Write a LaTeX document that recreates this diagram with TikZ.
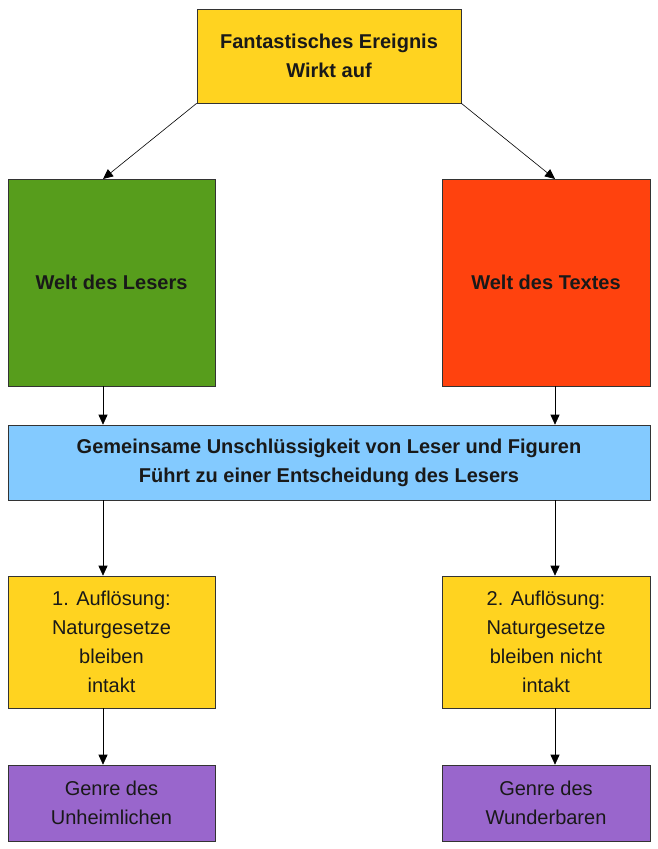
\documentclass[tikz,border=0pt]{standalone}
\usepackage{fontspec}
\setmainfont{Liberation Sans}
\usetikzlibrary{arrows.meta}
\definecolor{cyel}{HTML}{FFD320}
\definecolor{cgrn}{HTML}{579D1C}
\definecolor{cred}{HTML}{FF420E}
\definecolor{cblu}{HTML}{83CAFF}
\definecolor{cpur}{HTML}{9966CC}
\begin{document}
\begin{tikzpicture}[x=1pt,y=-1pt,
 box/.style={draw=black!80,line width=0.6pt,align=center,inner sep=0pt,font=\fontsize{20}{29}\selectfont,text=black!90},
 bbox/.style={box,font=\fontsize{20}{29}\selectfont\bfseries},
 arr/.style={-{Triangle[length=10pt,width=9pt]},line width=0.6pt}]
\useasboundingbox (0,0) rectangle (658,849);
\node[bbox,fill=cyel,minimum width=264pt,minimum height=94pt] (top) at (329,56) {Fantastisches Ereignis\\Wirkt auf};
\node[bbox,fill=cgrn,minimum width=207pt,minimum height=207pt] (gr) at (111.5,282.5) {Welt des Lesers};
\node[bbox,fill=cred,minimum width=208pt,minimum height=207pt] (rd) at (546,282.5) {Welt des Textes};
\node[bbox,fill=cblu,minimum width=642pt,minimum height=75pt] (bl) at (329,462.5) {Gemeinsame Unschlüssigkeit von Leser und Figuren\\Führt zu einer Entscheidung des Lesers};
\node[box,fill=cyel,minimum width=207pt,minimum height=132pt] (y1) at (111.5,642) {1. Auflösung:\\Naturgesetze\\bleiben\\intakt};
\node[box,fill=cyel,minimum width=208pt,minimum height=132pt] (y2) at (546,642) {2. Auflösung:\\Naturgesetze\\bleiben nicht\\intakt};
\node[box,fill=cpur,minimum width=207pt,minimum height=76pt] (p1) at (111.5,803) {Genre des\\Unheimlichen};
\node[box,fill=cpur,minimum width=208pt,minimum height=76pt] (p2) at (546,803) {Genre des\\Wunderbaren};
\draw[arr] (top.south west) -- (103,179);
\draw[arr] (top.south east) -- (555,179);
\draw[arr] (gr.south -| 103,0) -- (bl.north -| 103,0);
\draw[arr] (rd.south -| 555,0) -- (bl.north -| 555,0);
\draw[arr] (bl.south -| 103,0) -- (y1.north -| 103,0);
\draw[arr] (bl.south -| 555,0) -- (y2.north -| 555,0);
\draw[arr] (y1.south -| 103,0) -- (p1.north -| 103,0);
\draw[arr] (y2.south -| 555,0) -- (p2.north -| 555,0);
\end{tikzpicture}
\end{document}
